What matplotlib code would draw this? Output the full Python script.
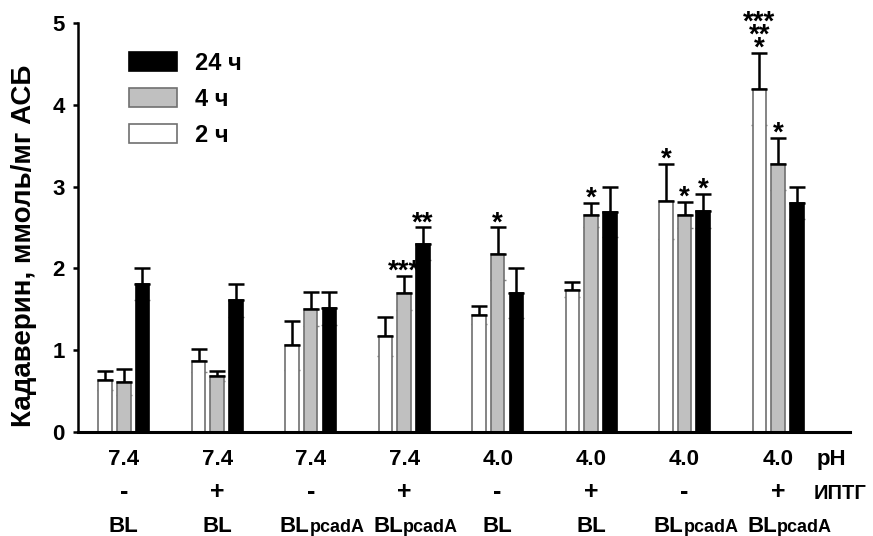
import numpy as np
import matplotlib
matplotlib.use("Agg")
import matplotlib.pyplot as plt
from matplotlib.patches import Patch

plt.rcParams['font.family'] = ['Liberation Sans', 'DejaVu Sans']
plt.rcParams['font.weight'] = 'bold'

# values
ph = ['7.4', '7.4', '7.4', '7.4', '4.0', '4.0', '4.0', '4.0']
iptg = ['-', '+', '-', '+', '-', '+', '-', '+']
strain = ['BL', 'BL', 'BLpcadA', 'BLpcadA', 'BL', 'BL', 'BLpcadA', 'BLpcadA']

h2 = [0.63, 0.87, 1.06, 1.17, 1.43, 1.74, 2.82, 4.19]
h2_err = [0.12, 0.14, 0.30, 0.24, 0.11, 0.09, 0.46, 0.44]
h4 = [0.61, 0.68, 1.50, 1.70, 2.18, 2.65, 2.65, 3.28]
h4_err = [0.16, 0.06, 0.21, 0.21, 0.32, 0.15, 0.16, 0.32]
h24 = [1.81, 1.61, 1.51, 2.30, 1.70, 2.69, 2.70, 2.80]
h24_err = [0.20, 0.20, 0.20, 0.20, 0.31, 0.31, 0.21, 0.20]

# (group, series: 0=2ч 1=4ч 2=24ч, marks, top line first)
stars = [(3, 1, '***'), (3, 2, '**'), (4, 1, '*'), (5, 1, '*'),
         (6, 0, '*'), (6, 1, '*'), (6, 2, '*'),
         (7, 0, '***\n**\n*'), (7, 1, '*')]

series = [(h2, h2_err, 'white', '#707070', '2 ч'),
          (h4, h4_err, '#c0c0c0', '#707070', '4 ч'),
          (h24, h24_err, 'black', 'black', '24 ч')]

fig = plt.figure(figsize=(8.73, 5.36), dpi=100)
ax = fig.add_axes([78 / 873, 104 / 536, 772 / 873, 409 / 536])

x = np.arange(len(ph))
w = 0.145
step = 0.2
for i, (vals, err, fc, ec, lab) in enumerate(series):
    xi = x + (i - 1) * step
    ax.bar(xi, vals, width=w, color=fc, edgecolor=ec, linewidth=1.2, zorder=2)
    vals = np.array(vals)
    err = np.array(err)
    # lower half hidden behind bars, only cap ends stick out
    ax.errorbar(xi, vals, yerr=[err, np.zeros_like(err)], fmt='none', ecolor='#888888',
                elinewidth=1.0, capsize=5.8, capthick=1.0, zorder=1)
    ax.errorbar(xi, vals, yerr=[np.zeros_like(err), err], fmt='none', ecolor='black',
                elinewidth=1.8, capsize=5.8, capthick=1.8, zorder=3)

for g, s, txt in stars:
    vals, err = series[s][0], series[s][1]
    top = vals[g] + err[g]
    ax.annotate(txt, xy=(g + (s - 1) * step, top), xytext=(0, -2),
                textcoords='offset points', ha='center', va='baseline',
                multialignment='center', linespacing=0.36,
                fontsize=20, fontweight='bold')

ax.set_xlim(-0.49, 7.77)
ax.set_ylim(0, 5)
ax.set_yticks(range(6))
ax.tick_params(axis='y', length=3.6, width=1.8, labelsize=16, pad=6)
ax.tick_params(axis='x', length=0, labelbottom=False)
for lbl in ax.get_yticklabels():
    lbl.set_fontweight('bold')
ax.spines['top'].set_visible(False)
ax.spines['right'].set_visible(False)
ax.spines['left'].set_linewidth(1.8)
ax.spines['bottom'].set_linewidth(2.2)

fig.text(24 / 873, 1 - 246 / 536, 'Кадаверин, ммоль/мг АСБ', rotation=90,
         ha='center', va='center', fontsize=20, fontweight='bold')

# group labels under the axis
blend = ('data', 'axes fraction')
for g in range(len(ph)):
    ax.annotate(ph[g], xy=(g, 0), xycoords=blend, xytext=(0, -33 * 0.72),
                textcoords='offset points', ha='center', va='baseline', fontsize=16)
    ax.annotate(iptg[g], xy=(g, 0), xycoords=blend, xytext=(0, -67 * 0.72),
                textcoords='offset points', ha='center', va='baseline', fontsize=18)
    if strain[g] == 'BL':
        ax.annotate('BL', xy=(g, 0), xycoords=blend, xytext=(0, -100 * 0.72),
                    textcoords='offset points', ha='center', va='baseline', fontsize=16)
    else:
        ax.annotate('BL', xy=(g, 0), xycoords=blend, xytext=(-1 * 0.72, -100 * 0.72),
                    textcoords='offset points', ha='right', va='baseline', fontsize=16)
        ax.annotate('pcadA', xy=(g, 0), xycoords=blend, xytext=(-1 * 0.72, -100 * 0.72),
                    textcoords='offset points', ha='left', va='baseline', fontsize=13)

ax.annotate('pH', xy=(817 / 873, 104 / 536), xycoords='figure fraction',
            xytext=(0, -33 * 0.72), textcoords='offset points', ha='left',
            va='baseline', fontsize=16, annotation_clip=False)
ax.annotate('ИПТГ', xy=(814 / 873, 104 / 536), xycoords='figure fraction',
            xytext=(0, -67 * 0.72), textcoords='offset points', ha='left',
            va='baseline', fontsize=14.5, annotation_clip=False)

handles = [Patch(facecolor=fc, edgecolor=ec, linewidth=1.2, label=lab)
           for _, _, fc, ec, lab in series[::-1]]
ax.legend(handles=handles, loc='upper left', bbox_to_anchor=(0.066, 0.93),
          frameon=False, borderpad=0, borderaxespad=0,
          handlelength=2.03, handleheight=0.85, handletextpad=0.76,
          labelspacing=0.55, prop={'weight': 'bold', 'size': 17})

fig.savefig('out.png', dpi=100)
